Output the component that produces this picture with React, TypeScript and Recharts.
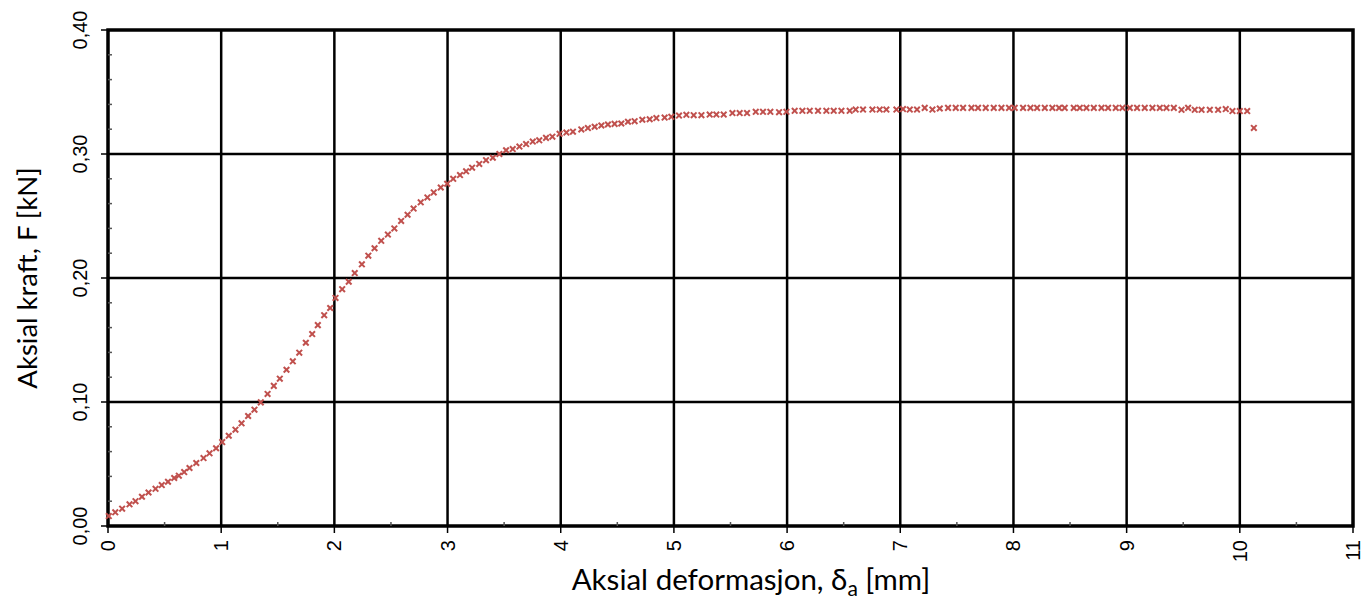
import React from 'react';
import { ScatterChart, Scatter, XAxis, YAxis, ReferenceLine, ReferenceArea } from 'recharts';

// Axial deformation [mm]
const deformation = [
  0.007, 0.064, 0.125, 0.19, 0.243, 0.3, 0.358, 0.42, 0.475, 0.53,
  0.585, 0.626, 0.673, 0.72, 0.78, 0.844, 0.897, 0.955, 1.009, 1.067,
  1.126, 1.18, 1.238, 1.294, 1.35, 1.41, 1.465, 1.518, 1.577, 1.633,
  1.69, 1.748, 1.804, 1.854, 1.91, 1.963, 2.01, 2.069, 2.127, 2.18,
  2.243, 2.3, 2.355, 2.414, 2.473, 2.53, 2.59, 2.647, 2.7, 2.763,
  2.822, 2.878, 2.94, 2.997, 3.05, 3.11, 3.164, 3.217, 3.28, 3.34,
  3.4, 3.458, 3.517, 3.576, 3.635, 3.694, 3.753, 3.81, 3.87, 3.926,
  3.99, 4.05, 4.108, 4.182, 4.24, 4.3, 4.359, 4.417, 4.476, 4.535,
  4.594, 4.653, 4.721, 4.786, 4.845, 4.918, 4.977, 5.045, 5.11, 5.175,
  5.243, 5.316, 5.375, 5.44, 5.517, 5.581, 5.646, 5.723, 5.787, 5.852,
  5.929, 5.994, 6.067, 6.135, 6.2, 6.273, 6.347, 6.412, 6.48, 6.553,
  6.606, 6.671, 6.754, 6.818, 6.877, 6.966, 7.024, 7.084, 7.148, 7.216,
  7.284, 7.349, 7.422, 7.49, 7.555, 7.629, 7.687, 7.755, 7.826, 7.894,
  7.961, 8.011, 8.085, 8.15, 8.209, 8.277, 8.344, 8.403, 8.453, 8.533,
  8.586, 8.645, 8.71, 8.778, 8.836, 8.904, 8.963, 9.028, 9.092, 9.16,
  9.228, 9.293, 9.352, 9.417, 9.485, 9.543, 9.602, 9.662, 9.735, 9.808,
  9.876, 9.935, 10.0, 10.065, 10.124,
];

// Axial force [kN]
const force = [
  0.008, 0.011, 0.014, 0.0175, 0.020, 0.0236, 0.027, 0.030, 0.033, 0.0357,
  0.0387, 0.0406, 0.0435, 0.0468, 0.0508, 0.0548, 0.0586, 0.0627, 0.0677, 0.0728,
  0.0777, 0.0828, 0.0887, 0.0938, 0.0997, 0.1065, 0.113, 0.1188, 0.126, 0.1328,
  0.1398, 0.1478, 0.1548, 0.162, 0.170, 0.1758, 0.1839, 0.191, 0.197, 0.204,
  0.211, 0.218, 0.224, 0.230, 0.235, 0.240, 0.246, 0.251, 0.256, 0.261,
  0.265, 0.269, 0.273, 0.276, 0.280, 0.283, 0.286, 0.289, 0.292, 0.295,
  0.297, 0.300, 0.303, 0.304, 0.306, 0.308, 0.310, 0.311, 0.313, 0.314,
  0.3163, 0.3173, 0.318, 0.3198, 0.3209, 0.322, 0.323, 0.3238, 0.3243, 0.3246,
  0.326, 0.3265, 0.3276, 0.328, 0.329, 0.3294, 0.330, 0.331, 0.3316, 0.3313,
  0.3313, 0.3318, 0.3318, 0.3318, 0.333, 0.333, 0.333, 0.334, 0.334, 0.334,
  0.3337, 0.334, 0.3348, 0.3348, 0.3348, 0.3348, 0.3348, 0.3348, 0.3348, 0.3348,
  0.3358, 0.3358, 0.3358, 0.3358, 0.3358, 0.3358, 0.3362, 0.3358, 0.3358, 0.3372,
  0.3358, 0.3367, 0.3372, 0.3372, 0.3372, 0.3372, 0.3372, 0.3372, 0.3372, 0.3372,
  0.3372, 0.3372, 0.3372, 0.3372, 0.3372, 0.3372, 0.3372, 0.3372, 0.3372, 0.3372,
  0.3372, 0.3372, 0.3372, 0.3372, 0.3372, 0.3372, 0.3372, 0.3372, 0.3372, 0.3372,
  0.3372, 0.3372, 0.3372, 0.3372, 0.3356, 0.3372, 0.3356, 0.3356, 0.3356, 0.3356,
  0.3362, 0.3346, 0.3346, 0.3346, 0.321,
];

const xTicks = [0, 0.5, 1, 1.5, 2, 2.5, 3, 3.5, 4, 4.5, 5, 5.5, 6, 6.5, 7, 7.5, 8, 8.5, 9, 9.5, 10, 10.5, 11];
const yTicks = [0, 0.02, 0.04, 0.06, 0.08, 0.1, 0.12, 0.14, 0.16, 0.18, 0.2, 0.22, 0.24, 0.26, 0.28, 0.3, 0.32, 0.34, 0.36, 0.38, 0.4];
const xGrid = [1, 2, 3, 4, 5, 6, 7, 8, 9, 10];
const yGrid = [0.1, 0.2, 0.3];

const xTitle = 'Aksial deformasjon, δ';
const xTitleSub = 'a';
const xTitleEnd = ' [mm]';
const yTitle = 'Aksial kraft, F [kN]';

const data = deformation.map((x, i) => ({ x, y: force[i] }));

const TICK_FONT = '"Liberation Sans", Arial, sans-serif';
const TITLE_FONT = 'Lato, "Open Sans", sans-serif';

const XTick = (props: any) => {
  const { x, y, payload } = props;
  const v = payload.value as number;
  const major = Math.abs(v - Math.round(v)) < 1e-9;
  if (!major) {
    return <line x1={x} x2={x} y1={y} y2={y - 4} stroke="#555" strokeWidth={1.5} />;
  }
  const ty = y + 14;
  return (
    <g>
      <line x1={x} x2={x} y1={y} y2={y + 7} stroke="#000" strokeWidth={1.5} />
      <text x={x} y={ty} transform={`rotate(-90 ${x} ${ty})`} textAnchor="end" dominantBaseline="central"
        fontFamily={TICK_FONT} fontSize={20} fill="#000">{String(v)}</text>
    </g>
  );
};

const YTick = (props: any) => {
  const { x, y, payload } = props;
  const v = payload.value as number;
  const major = Math.abs(v * 10 - Math.round(v * 10)) < 1e-6;
  if (!major) {
    return <line x1={x} x2={x + 4} y1={y} y2={y} stroke="#555" strokeWidth={1.5} />;
  }
  const tx = x - 21;
  return (
    <g>
      <line x1={x - 7} x2={x} y1={y} y2={y} stroke="#000" strokeWidth={1.5} />
      <text x={tx} y={y} transform={`rotate(-90 ${tx} ${y})`} textAnchor="middle"
        fontFamily={TICK_FONT} fontSize={20} fill="#000">{v.toFixed(2).replace('.', ',')}</text>
    </g>
  );
};

const Cross = (props: any) => {
  const { cx, cy } = props;
  const r = 2.8;
  return (
    <g stroke="#C0504D" strokeWidth={2}>
      <line x1={cx - r} y1={cy - r} x2={cx + r} y2={cy + r} />
      <line x1={cx - r} y1={cy + r} x2={cx + r} y2={cy - r} />
    </g>
  );
};

const XTitle = () => (
  <text x={751} y={590} textAnchor="middle" fontFamily={TITLE_FONT} fontSize={29.5} fill="#000">
    {xTitle}
    <tspan dy={6} fontSize={21}>{xTitleSub}</tspan>
    <tspan dy={-6}>{xTitleEnd}</tspan>
  </text>
);

const YTitle = () => (
  <text x={37} y={278} transform="rotate(-90 37 278)" textAnchor="middle" fontFamily={TITLE_FONT} fontSize={27.5} fill="#000">
    {yTitle}
  </text>
);

export default function App() {
  return (
    <div style={{ width: 1363, height: 603 }}>
      <style>{'body{margin:0;overflow:hidden;background:#fff}'}</style>
      <ScatterChart width={1363} height={603} margin={{ top: 30, right: 10, bottom: 0, left: 0 }}>
        <XAxis type="number" dataKey="x" domain={[0, 11]} ticks={xTicks} interval={0} height={77}
          axisLine={false} tickLine={false} tickSize={0} tickMargin={0} tick={<XTick />}
          label={{ content: () => <XTitle /> }} />
        <YAxis type="number" dataKey="y" domain={[0, 0.4]} ticks={yTicks} interval={0} width={108}
          axisLine={false} tickLine={false} tickSize={0} tickMargin={0} tick={<YTick />}
          label={{ content: () => <YTitle /> }} />
        {xGrid.map((v) => (
          <ReferenceLine key={'gx' + v} x={v} stroke="#000" strokeWidth={2.5} />
        ))}
        {yGrid.map((v) => (
          <ReferenceLine key={'gy' + v} y={v} stroke="#000" strokeWidth={2.5} />
        ))}
        <ReferenceArea x1={0} x2={11} y1={0} y2={0.4} fill="none" fillOpacity={0} stroke="#000" strokeWidth={3.5} />
        <Scatter data={data} shape={<Cross />} isAnimationActive={false} />
      </ScatterChart>
    </div>
  );
}
